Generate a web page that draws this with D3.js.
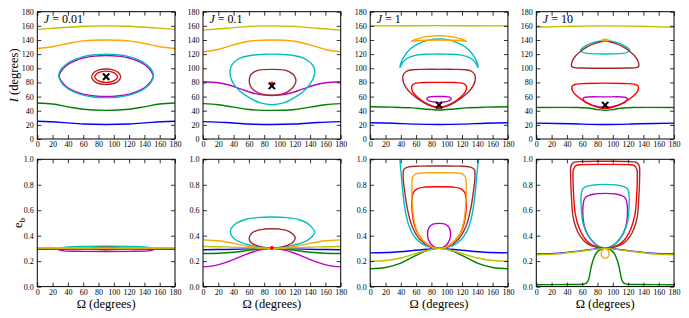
<!DOCTYPE html>
<html>
<head>
<meta charset="utf-8">
<script src="https://cdn.jsdelivr.net/npm/d3@7"></script>
<style>
  body { margin: 0; background: #fff; }
  svg text { font-family: "Liberation Serif", "DejaVu Serif", serif; fill: #000; }
</style>
</head>
<body>
<svg id="chart" width="689" height="318"></svg>
<script>
// ── tick values / panel labels ──────────────────────────────
const omegaTicks = [0, 20, 40, 60, 80, 100, 120, 140, 160, 180];
const incTicks = [0, 20, 40, 60, 80, 100, 120, 140, 160, 180];
const eccTicks = [0, 0.2, 0.4, 0.6, 0.8, 1.0];
const jValues = ['0.01', '0.1', '1', '10'];

// fixed points (Ω, I) marked with a cross, one per panel
const crossPoints = [[90, 88], [90, 75], [90, 48], [90, 48]];
// small red dots (only J = 0.1)
const dotsInc = [[], [[90, 78.5]], [], []];
const dotsEcc = [[], [[90, 0.304]], [], []];

// ── I(Ω) trajectories, degrees. closed loops repeat the first point ──
const incJ001 = [
  ['yellow', [[0,155],[30,157.3],[60,159.4],[90,160],[120,159.4],[150,157.3],[180,155]]],
  ['orange', [[0,128],[20,130.5],[40,135],[60,138.8],[90,140],[120,138.8],[140,135],[160,130.5],[180,128]]],
  ['cyan', [[28,90],[32,100],[40,107.5],[50,113],[60,116.5],[75,119.2],[90,120],[105,119.2],[120,116.5],[130,113],[140,107.5],[148,100],[152,90],[148,79],[140,71],[130,65.5],[120,62],[105,59],[90,58.5],[75,59],[60,62],[50,65.5],[40,71],[32,79],[28,90]]],
  ['magenta', [[28.5,89],[33,98.5],[40,105.5],[50,111],[60,114.5],[75,117.2],[90,118],[105,117.2],[120,114.5],[130,111],[140,105.5],[147,98.5],[151.5,89],[147,79.5],[140,72.5],[130,67],[120,63.5],[105,60.8],[90,60],[75,60.8],[60,63.5],[50,67],[40,72.5],[33,79.5],[28.5,89]]],
  ['brown', [[71,88],[74,94],[80,97.5],[90,99],[100,97.5],[106,94],[109,88],[106,82],[100,78.5],[90,77],[80,78.5],[74,82],[71,88]]],
  ['red', [[75,88],[78,92.5],[83,95],[90,96],[97,95],[102,92.5],[105,88],[102,83.5],[97,81],[90,80],[83,81],[78,83.5],[75,88]]],
  ['green', [[0,51],[20,49.5],[40,45.5],[60,42],[90,40.5],[120,42],[140,45.5],[160,49.5],[180,51]]],
  ['blue', [[0,25],[30,23.5],[60,21.2],[90,20.5],[120,21.2],[150,23.5],[180,25]]]
];

const incJ01 = [
  ['yellow', [[0,154],[30,156.5],[60,159.2],[90,160],[120,159.2],[150,156.5],[180,154]]],
  ['orange', [[0,123],[20,126.5],[40,133],[60,138.3],[90,140],[120,138.3],[140,133],[160,126.5],[180,123]]],
  ['cyan', [[35.5,97],[38,105],[42,110],[50,115],[60,117.8],[75,119.5],[90,120],[105,119.5],[120,117.8],[130,115],[138,110],[143,105],[146,97],[145,88],[140,78],[132,68],[120,59],[105,51],[90,48.5],[75,51],[60,59],[48,68],[40,78],[36,88],[35.5,97]]],
  ['magenta', [[0,81],[20,79.5],[35,76],[50,70.5],[65,65],[80,62],[90,61.5],[100,62],[115,65],[130,70.5],[145,76],[160,79.5],[180,81]]],
  ['brown', [[60.5,83],[62,90],[67,95],[75,97.8],[90,98.5],[105,97.8],[113,95],[119,90],[121.5,83],[119,75],[113,68.5],[103,63.5],[90,62],[77,63.5],[67,68.5],[62,75],[60.5,83]]],
  ['green', [[0,50],[20,48.5],[40,45],[60,41.8],[90,40.5],[120,41.8],[140,45],[160,48.5],[180,50]]],
  ['blue', [[0,24.5],[30,23.3],[60,21.2],[90,20.5],[120,21.2],[150,23.3],[180,24.5]]]
];

const incJ1 = [
  ['yellow', [[0,160],[90,160.3],[180,160]]],
  ['orange', [[54,138],[60,141],[70,144],[80,145.5],[90,146],[100,145.5],[110,144],[120,141],[126,138],[120,139],[110,139.7],[90,140],[70,139.7],[60,139],[54,138]]],
  ['cyan', [[39,101],[41,110],[45,118],[52,127],[62,134],[75,139.5],[90,141.5],[105,139.5],[118,134],[128,127],[135,118],[139,110],[141,101],[137,109],[130,115],[118,119],[100,120],[80,120],[62,119],[50,115],[43,109],[39,101]]],
  ['brown', [[90,98.5],[110,98.5],[125,98],[133,95.5],[137,90],[137,82],[134,74],[128,66],[118,57],[104,48],[90,43.5],[76,48],[62,57],[52,66],[46,74],[43,82],[43,90],[47,95.5],[55,98],[70,98.5],[90,98.5]]],
  ['red', [[90,80],[110,79.8],[120,79],[125,76],[126,72],[124,66],[118,59],[108,51],[90,45],[72,51],[62,59],[56,66],[54,72],[55,76],[60,79],[70,79.8],[90,80]]],
  ['magenta', [[74,57],[77,59.5],[90,60],[103,59.5],[106,57],[103,54],[96,52.3],[90,51.5],[84,52.3],[77,54],[74,57]]],
  ['green', [[0,45.5],[30,45],[55,44],[70,42.5],[90,41],[110,42.5],[125,44],[150,45],[180,45.5]]],
  ['blue', [[0,23],[30,22.3],[60,21],[90,20.5],[120,21],[150,22.3],[180,23]]]
];

const incJ10 = [
  ['yellow', [[0,158],[45,159.4],[90,160],[135,159.4],[180,158]]],
  ['orange', [[85,139.5],[90,141],[95,139.5],[90,138.8],[85,139.5]]],
  ['cyan', [[58,126],[62,130],[70,134.5],[80,137.8],[90,139],[100,137.8],[110,134.5],[118,130],[122,126],[120,123],[113,121],[100,120.3],[90,120.2],[80,120.3],[67,121],[60,123],[58,126]]],
  ['brown', [[46,103],[47,110],[51,117],[58,124],[67,130.5],[78,135.5],[90,138.5],[102,135.5],[113,130.5],[122,124],[129,117],[133,110],[134,103],[131,101],[120,100.3],[90,100],[60,100.3],[49,101],[46,103]]],
  ['red', [[90,79],[115,78.5],[128,77.5],[133,75],[133,69],[129,63],[121,56],[108,48],[90,43],[72,48],[59,56],[51,63],[47,69],[47,75],[52,77.5],[65,78.5],[90,79]]],
  ['magenta', [[61,57],[64,59],[90,59.5],[116,59],[119,57],[117,53],[107,48],[90,44.5],[73,48],[63,53],[61,57]]],
  ['green', [[0,44.5],[55,44.5],[70,43.5],[80,41.5],[90,40.5],[100,41.5],[110,43.5],[125,44.5],[180,44.5]]],
  ['blue', [[0,22.5],[45,21.5],[90,20.5],[135,21.5],[180,22.5]]]
];

// ── e_b(Ω) trajectories ──
const eccJ001 = [
  ['yellow', [[0,0.304],[90,0.304],[180,0.304]]],
  ['orange', [[0,0.302],[90,0.3],[180,0.302]]],
  ['cyan', [[30,0.302],[40,0.311],[60,0.315],[90,0.317],[120,0.315],[140,0.311],[150,0.302],[140,0.3],[90,0.299],[40,0.3],[30,0.302]]],
  ['magenta', [[28,0.29],[40,0.295],[60,0.297],[90,0.298],[120,0.297],[140,0.295],[152,0.29],[145,0.281],[120,0.277],[90,0.276],[60,0.277],[35,0.281],[28,0.29]]],
  ['brown', [[71,0.3],[78,0.307],[90,0.31],[102,0.307],[109,0.3],[102,0.293],[90,0.29],[78,0.293],[71,0.3]]],
  ['red', [[75,0.3],[81,0.305],[90,0.306],[99,0.305],[105,0.3],[99,0.295],[90,0.294],[81,0.295],[75,0.3]]],
  ['green', [[0,0.293],[90,0.295],[180,0.293]]],
  ['blue', [[0,0.298],[90,0.3],[180,0.298]]]
];

const eccJ01 = [
  ['yellow', [[0,0.315],[30,0.312],[60,0.305],[90,0.3],[120,0.305],[150,0.312],[180,0.315]]],
  ['orange', [[0,0.367],[20,0.36],[40,0.34],[60,0.315],[75,0.303],[90,0.3],[105,0.303],[120,0.315],[140,0.34],[160,0.36],[180,0.367]]],
  ['cyan', [[35.5,0.43],[38,0.467],[45,0.502],[55,0.527],[70,0.542],[90,0.547],[110,0.542],[125,0.527],[135,0.502],[142,0.467],[146,0.43],[143,0.395],[136,0.362],[123,0.333],[107,0.312],[90,0.303],[73,0.312],[57,0.333],[44,0.362],[38,0.395],[35.5,0.43]]],
  ['magenta', [[0,0.155],[15,0.165],[30,0.19],[45,0.225],[60,0.262],[75,0.288],[90,0.3],[105,0.288],[120,0.262],[135,0.225],[150,0.19],[165,0.165],[180,0.155]]],
  ['brown', [[60.5,0.384],[63,0.415],[70,0.44],[80,0.452],[90,0.455],[100,0.452],[110,0.44],[117,0.415],[120.5,0.384],[118,0.35],[111,0.325],[101,0.308],[90,0.303],[79,0.308],[69,0.325],[62,0.35],[60.5,0.384]]],
  ['green', [[0,0.26],[20,0.262],[40,0.27],[60,0.285],[75,0.296],[90,0.3],[105,0.296],[120,0.285],[140,0.27],[160,0.262],[180,0.26]]],
  ['blue', [[0,0.29],[30,0.292],[60,0.296],[90,0.3],[120,0.296],[150,0.292],[180,0.29]]]
];

const eccJ1 = [
  ['yellow', [[0,0.2],[20,0.205],[40,0.225],[60,0.26],[75,0.285],[90,0.3],[105,0.285],[120,0.26],[140,0.225],[160,0.205],[180,0.2]]],
  ['orange', [[90,0.894],[110,0.893],[120,0.885],[124.5,0.86],[125.5,0.8],[125,0.65],[122,0.5],[116,0.4],[105,0.33],[90,0.3],[75,0.33],[64,0.4],[58,0.5],[55,0.65],[54.5,0.8],[55.5,0.86],[60,0.885],[70,0.893],[90,0.894]]],
  ['cyan', [[38.3,1.03],[39.5,0.95],[41,0.85],[42.5,0.75],[44.5,0.65],[47,0.56],[50.5,0.48],[55,0.42],[61,0.37],[68,0.336],[78,0.31],[90,0.3],[102,0.31],[112,0.336],[119,0.37],[125,0.42],[129.5,0.48],[133,0.56],[135.5,0.65],[137.5,0.75],[139,0.85],[140.5,0.95],[141.7,1.03]]],
  ['magenta', [[90,0.497],[98,0.49],[103,0.465],[105,0.42],[104,0.37],[100,0.33],[95,0.308],[90,0.3],[85,0.308],[80,0.33],[76,0.37],[75,0.42],[77,0.465],[82,0.49],[90,0.497]]],
  ['brown', [[90,0.947],[115,0.946],[130,0.94],[136,0.92],[137,0.87],[135,0.75],[131,0.6],[125,0.47],[115,0.37],[103,0.318],[90,0.3],[77,0.318],[65,0.37],[55,0.47],[49,0.6],[45,0.75],[43,0.87],[44,0.92],[50,0.94],[65,0.946],[90,0.947]]],
  ['red', [[90,0.784],[108,0.782],[118,0.77],[123.5,0.74],[125.5,0.68],[125,0.58],[122,0.48],[116,0.4],[105,0.33],[90,0.3],[75,0.33],[64,0.4],[58,0.48],[55,0.58],[54.5,0.68],[56.5,0.74],[62,0.77],[72,0.782],[90,0.784]]],
  ['green', [[0,0.14],[20,0.15],[40,0.185],[60,0.245],[75,0.285],[90,0.3],[105,0.285],[120,0.245],[140,0.185],[160,0.15],[180,0.14]]],
  ['blue', [[0,0.265],[30,0.27],[60,0.285],[90,0.3],[120,0.285],[150,0.27],[180,0.265]]]
];

const eccJ10 = [
  ['yellow', [[0,0.25],[30,0.258],[60,0.28],[90,0.3],[120,0.28],[150,0.258],[180,0.25]]],
  ['orange', [[90,0.3],[93,0.29],[95,0.265],[94,0.235],[90,0.222],[86,0.235],[85,0.265],[87,0.29],[90,0.3]]],
  ['cyan', [[90,0.803],[105,0.798],[115,0.785],[120,0.76],[121.5,0.7],[121,0.6],[119,0.5],[114,0.42],[106,0.35],[98,0.315],[90,0.3],[82,0.315],[74,0.35],[66,0.42],[61,0.5],[59,0.6],[58.5,0.7],[60,0.76],[65,0.785],[75,0.798],[90,0.803]]],
  ['magenta', [[90,0.732],[103,0.728],[112,0.715],[117,0.69],[119,0.63],[119,0.55],[117,0.47],[112,0.4],[104,0.34],[96,0.31],[90,0.3],[84,0.31],[76,0.34],[68,0.4],[63,0.47],[61,0.55],[61,0.63],[63,0.69],[68,0.715],[77,0.728],[90,0.732]]],
  ['brown', [[90,0.985],[120,0.983],[131,0.975],[134.5,0.95],[135,0.85],[134,0.7],[132,0.55],[128,0.46],[122,0.39],[114,0.34],[102,0.31],[90,0.3],[78,0.31],[66,0.34],[58,0.39],[52,0.46],[48,0.55],[46,0.7],[45,0.85],[45.5,0.95],[49,0.975],[60,0.983],[90,0.985]]],
  ['red', [[90,0.96],[120,0.958],[128,0.95],[131.5,0.92],[132,0.85],[131,0.7],[129,0.57],[124,0.46],[117,0.38],[108,0.33],[90,0.3],[72,0.33],[63,0.38],[56,0.46],[51,0.57],[49,0.7],[48,0.85],[48.5,0.92],[52,0.95],[60,0.958],[90,0.96]]],
  ['green', [[0,0.015],[40,0.016],[60,0.018],[65,0.025],[68,0.05],[70,0.1],[72,0.16],[75,0.22],[78,0.26],[82,0.285],[90,0.3],[98,0.285],[102,0.26],[105,0.22],[108,0.16],[110,0.1],[112,0.05],[115,0.025],[120,0.018],[140,0.016],[180,0.015]]],
  ['blue', [[0,0.256],[30,0.263],[60,0.283],[90,0.3],[120,0.283],[150,0.263],[180,0.256]]]
];

// ── layout / styling ──
const colLeft = [37.3, 203, 370.2, 536.3];
const panelW = 137.7;
const rowTop = [11.7, 159.3];
const panelH = 127.3;
const lineColor = {
  yellow: '#bfbf00', orange: '#ffa500', cyan: '#00bfbf', magenta: '#bf00bf',
  brown: '#a52a2a', red: '#ff0000', green: '#008000', blue: '#0000ff'
};
const drawOrder = ['blue', 'green', 'magenta', 'cyan', 'red', 'brown', 'orange', 'yellow'];

const svg = d3.select('#chart');

function samePt(a, b) { return a[0] === b[0] && a[1] === b[1]; }

function drawPanel(col, row, curves, yDomain, yTicks, yFmt, cross, dots) {
  const x0 = colLeft[col], y0 = rowTop[row];
  const x = d3.scaleLinear().domain([0, 180]).range([x0, x0 + panelW]);
  const y = d3.scaleLinear().domain(yDomain).range([y0 + panelH, y0]);
  const clipId = 'clip-' + row + '-' + col;

  svg.append('clipPath').attr('id', clipId)
    .append('rect').attr('x', x0).attr('y', y0).attr('width', panelW).attr('height', panelH);

  const g = svg.append('g').attr('clip-path', `url(#${clipId})`);

  const sorted = curves.slice().sort((a, b) => drawOrder.indexOf(a[0]) - drawOrder.indexOf(b[0]));
  sorted.forEach(([name, pts]) => {
    const closed = pts.length > 2 && samePt(pts[0], pts[pts.length - 1]);
    const line = d3.line()
      .x(d => x(d[0])).y(d => y(d[1]))
      .curve(closed ? d3.curveCatmullRomClosed.alpha(0.5) : d3.curveCatmullRom.alpha(0.5));
    g.append('path')
      .datum(closed ? pts.slice(0, -1) : pts)
      .attr('d', line)
      .attr('fill', 'none')
      .attr('stroke', lineColor[name])
      .attr('stroke-width', 1.4)
      .attr('stroke-linejoin', 'round');
  });

  dots.forEach(d => {
    g.append('circle').attr('cx', x(d[0])).attr('cy', y(d[1])).attr('r', 2).attr('fill', '#ff0000');
  });

  if (cross) {
    const cx = x(cross[0]), cy = y(cross[1]), s = 3.2;
    g.append('path')
      .attr('d', `M${cx - s},${cy - s}L${cx + s},${cy + s}M${cx - s},${cy + s}L${cx + s},${cy - s}`)
      .attr('stroke', '#000').attr('stroke-width', 2);
  }

  // axes, inward ticks on every side
  const styleAxis = sel => {
    sel.select('.domain').remove();
    sel.selectAll('.tick line').attr('stroke', '#000').attr('stroke-width', 0.8);
    sel.selectAll('text').attr('font-family', '"Liberation Serif", serif').attr('font-size', 8).attr('fill', '#000');
  };
  svg.append('g').attr('transform', `translate(0,${y0 + panelH})`)
    .call(d3.axisBottom(x).tickValues(omegaTicks).tickSize(-4).tickPadding(2.5).tickFormat(d3.format('d')))
    .call(styleAxis);
  svg.append('g').attr('transform', `translate(0,${y0})`)
    .call(d3.axisTop(x).tickValues(omegaTicks).tickSize(-4).tickFormat(''))
    .call(styleAxis);
  svg.append('g').attr('transform', `translate(${x0},0)`)
    .call(d3.axisLeft(y).tickValues(yTicks).tickSize(-4).tickPadding(3.5).tickFormat(yFmt))
    .call(styleAxis);
  svg.append('g').attr('transform', `translate(${x0 + panelW},0)`)
    .call(d3.axisRight(y).tickValues(yTicks).tickSize(-4).tickFormat(''))
    .call(styleAxis);

  svg.append('rect')
    .attr('x', x0).attr('y', y0).attr('width', panelW).attr('height', panelH)
    .attr('fill', 'none').attr('stroke', '#000').attr('stroke-width', 1);

  return { x0, y0 };
}

const incPanels = [incJ001, incJ01, incJ1, incJ10];
const eccPanels = [eccJ001, eccJ01, eccJ1, eccJ10];

incPanels.forEach((curves, i) => {
  const p = drawPanel(i, 0, curves, [0, 180], incTicks, d3.format('d'), crossPoints[i], dotsInc[i]);
  const t = svg.append('text').attr('x', p.x0 + 6.5).attr('y', p.y0 + 11.5).attr('font-size', 12);
  t.append('tspan').attr('font-style', 'italic').text('J');
  t.append('tspan').text(' = ' + jValues[i]);
});

eccPanels.forEach((curves, i) => {
  const p = drawPanel(i, 1, curves, [0, 1], eccTicks, d3.format('.1f'), null, dotsEcc[i]);
  svg.append('text')
    .attr('x', p.x0 + panelW / 2).attr('y', 307.5)
    .attr('text-anchor', 'middle').attr('font-size', 12.5)
    .text('Ω (degrees)');
});

// y-axis titles
const iLab = svg.append('text')
  .attr('transform', `translate(18,${rowTop[0] + panelH / 2}) rotate(-90)`)
  .attr('text-anchor', 'middle').attr('font-size', 12.5);
iLab.append('tspan').attr('font-style', 'italic').text('I');
iLab.append('tspan').text(' (degrees)');

const eLab = svg.append('text')
  .attr('transform', `translate(22,${rowTop[1] + panelH / 2}) rotate(-90)`)
  .attr('text-anchor', 'middle').attr('font-size', 12.5);
eLab.append('tspan').text('e');
eLab.append('tspan').attr('font-size', 9).attr('dy', 3).text('b');
</script>
</body>
</html>
